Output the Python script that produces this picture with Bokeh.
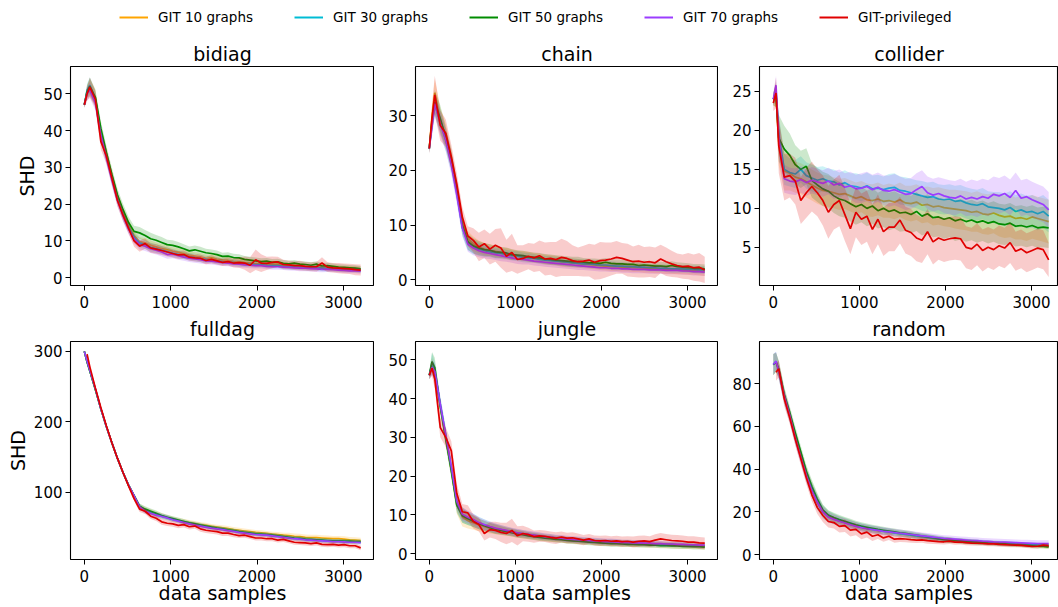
import numpy as np
from bokeh.plotting import figure
from bokeh.models import ColumnDataSource, Range1d, FixedTicker, Legend, LegendItem
from bokeh.layouts import column, row
from bokeh.embed import file_html
from bokeh.resources import INLINE

FONT = "DejaVu Sans"

# ---------------- data ----------------
X = [0, 32, 64, 128, 192, 256, 320, 384, 448, 512, 576, 640,
     704, 768, 832, 896, 960, 1024, 1088, 1152, 1216, 1280,
     1344, 1408, 1472, 1536, 1600, 1664, 1728, 1792, 1856, 1920,
     1984, 2048, 2112, 2176, 2240, 2304, 2368, 2432, 2496, 2560,
     2624, 2688, 2752, 2816, 2880, 2944, 3008, 3072, 3136, 3200]

SERIES = ["GIT 10 graphs", "GIT 30 graphs", "GIT 50 graphs", "GIT 70 graphs", "GIT-privileged"]
COLORS = ["#FFA500", "#00BCD4", "#008C00", "#9B3DFF", "#E00000"]
PANELS = ["bidiag", "chain", "collider", "fulldag", "jungle", "random"]
X_TICKS = [0, 1000, 2000, 3000]

# ---- bidiag ----
bidiag_g10 = [47.0, 50.5, 51.5, 48.8, 39.5, 33.5, 27.5, 22.0, 17.8, 14.3, 11.5, 9.8,
              9.5, 8.8, 8.4, 7.9, 7.6, 7.2, 6.9, 6.5, 6.1, 5.9,
              5.7, 5.3, 5.4, 5.0, 4.8, 4.7, 4.4, 4.3, 4.1, 4.0,
              3.8, 3.9, 3.7, 3.6, 3.7, 3.4, 3.3, 3.3, 3.1, 3.0,
              2.9, 3.0, 2.8, 2.7, 2.6, 2.5, 2.4, 2.4, 2.3, 2.2]
bidiag_g30 = [47.0, 51.0, 52.3, 48.5, 39.0, 33.0, 27.0, 21.5, 17.2, 13.8, 11.0, 9.5,
              9.0, 8.3, 7.9, 7.5, 7.1, 6.7, 6.4, 6.0, 5.7, 5.5,
              5.2, 5.0, 4.9, 4.6, 4.4, 4.3, 4.1, 3.9, 3.8, 3.7,
              3.5, 3.6, 3.4, 3.3, 3.3, 3.1, 3.0, 3.0, 2.9, 2.8,
              2.7, 2.7, 2.6, 2.5, 2.4, 2.3, 2.2, 2.2, 2.1, 2.0]
bidiag_g50 = [47.0, 50.5, 52.0, 49.0, 40.5, 34.0, 28.0, 22.5, 18.5, 15.0, 12.6, 12.2,
              11.5, 10.6, 10.2, 9.6, 9.0, 8.8, 8.4, 7.9, 7.3, 7.6,
              7.2, 6.8, 6.6, 6.3, 5.8, 5.9, 5.5, 5.4, 5.0, 4.8,
              4.6, 4.4, 4.5, 4.2, 4.3, 3.9, 3.8, 4.0, 3.7, 3.6,
              3.4, 3.7, 3.2, 3.3, 3.1, 2.9, 2.8, 2.7, 2.6, 2.4]
bidiag_g70 = [47.0, 50.0, 51.0, 47.5, 38.5, 32.5, 26.5, 21.0, 16.8, 13.2, 10.5, 9.0,
              8.6, 7.9, 7.5, 7.0, 6.3, 6.4, 6.0, 5.6, 5.3, 5.1,
              4.9, 4.6, 4.5, 4.3, 4.1, 4.0, 3.8, 3.7, 3.5, 3.4,
              3.3, 3.3, 3.1, 3.0, 3.0, 2.9, 2.8, 2.7, 2.6, 2.6,
              2.5, 2.4, 2.3, 2.3, 2.2, 2.1, 2.0, 1.9, 1.9, 1.8]
bidiag_priv = [47.0, 50.0, 51.8, 48.5, 37.0, 33.0, 27.0, 21.0, 17.0, 13.5, 10.0, 8.6,
               9.3, 8.1, 7.8, 7.4, 7.0, 6.6, 6.2, 6.3, 5.6, 5.4,
               5.3, 4.7, 5.0, 4.6, 4.2, 4.4, 4.0, 4.1, 4.0, 3.4,
               4.9, 4.0, 3.9, 4.2, 4.3, 3.6, 3.5, 3.3, 3.3, 3.1,
               3.0, 3.0, 4.0, 2.9, 2.7, 2.6, 2.5, 2.4, 2.2, 2.1]
bidiag_g10_sd = [0.8, 1.8, 2.4, 2.2, 2.0, 1.8, 1.7, 1.6, 1.5, 1.5, 1.4, 1.3,
                 1.3, 1.3, 1.2, 1.2, 1.2, 1.1, 1.1, 1.1, 1.1, 1.0,
                 1.0, 1.0, 1.0, 1.0, 1.0, 0.9, 0.9, 0.9, 0.9, 0.9,
                 0.9, 0.9, 0.9, 0.9, 0.8, 0.8, 0.8, 0.8, 0.8, 0.8,
                 0.8, 0.8, 0.8, 0.8, 0.8, 0.8, 0.8, 0.8, 0.8, 0.8]
bidiag_g30_sd = [0.8, 1.8, 2.2, 2.0, 1.9, 1.8, 1.7, 1.6, 1.5, 1.4, 1.3, 1.3,
                 1.2, 1.2, 1.2, 1.1, 1.1, 1.1, 1.0, 1.0, 1.0, 1.0,
                 1.0, 1.0, 0.9, 0.9, 0.9, 0.9, 0.9, 0.9, 0.9, 0.8,
                 0.8, 0.8, 0.8, 0.8, 0.8, 0.8, 0.8, 0.8, 0.8, 0.8,
                 0.8, 0.8, 0.8, 0.8, 0.7, 0.7, 0.7, 0.7, 0.7, 0.7]
bidiag_g50_sd = [0.8, 1.8, 2.4, 2.2, 2.0, 1.9, 1.8, 1.7, 1.6, 1.6, 1.5, 1.6,
                 1.5, 1.6, 1.4, 1.5, 1.3, 1.4, 1.3, 1.2, 1.2, 1.2,
                 1.2, 1.1, 1.1, 1.1, 1.0, 1.0, 1.0, 1.0, 0.9, 0.9,
                 0.9, 0.9, 0.9, 0.9, 0.9, 0.9, 0.8, 0.8, 0.8, 0.8,
                 0.8, 0.8, 0.8, 0.8, 0.8, 0.8, 0.8, 0.8, 0.8, 0.8]
bidiag_g70_sd = [0.8, 1.7, 2.2, 2.0, 1.9, 1.8, 1.7, 1.6, 1.5, 1.4, 1.3, 1.3,
                 1.3, 1.2, 1.2, 1.2, 1.1, 1.1, 1.1, 1.0, 1.0, 1.0,
                 1.0, 0.9, 0.9, 0.9, 0.9, 0.9, 0.9, 0.9, 0.8, 0.8,
                 0.8, 0.8, 0.8, 0.8, 0.8, 0.8, 0.8, 0.8, 0.8, 0.8,
                 0.8, 0.8, 0.8, 0.7, 0.7, 0.7, 0.7, 0.7, 0.7, 0.7]
bidiag_priv_sd = [0.8, 2.0, 2.6, 2.4, 2.2, 2.0, 1.8, 1.7, 1.6, 1.5, 1.6, 1.5,
                  1.4, 1.3, 1.3, 1.2, 1.2, 1.1, 1.1, 1.1, 1.0, 1.0,
                  1.0, 1.0, 1.1, 1.0, 1.0, 1.1, 1.2, 1.4, 1.8, 2.2,
                  2.8, 2.4, 1.8, 1.6, 1.4, 1.3, 1.2, 1.2, 1.3, 1.2,
                  1.2, 1.3, 1.6, 1.3, 1.3, 1.4, 1.4, 1.4, 1.5, 1.5]

# ---- chain ----
chain_g10 = [24.0, 30.0, 34.2, 29.0, 26.5, 22.0, 16.5, 10.5, 7.5, 6.6, 6.0, 5.6,
             5.4, 5.2, 5.0, 4.8, 4.6, 4.4, 4.3, 4.2, 4.0, 3.9,
             3.7, 3.6, 3.5, 3.3, 3.2, 3.1, 3.0, 2.9, 2.8, 2.7,
             2.6, 2.5, 2.4, 2.4, 2.3, 2.3, 2.2, 2.2, 2.1, 2.1,
             2.0, 2.0, 1.9, 1.9, 1.8, 1.8, 1.7, 1.7, 1.6, 1.5]
chain_g30 = [24.0, 28.5, 32.0, 29.0, 25.5, 21.5, 16.0, 9.5, 6.8, 6.0, 5.6, 5.3,
             5.1, 4.9, 4.8, 4.6, 4.4, 4.3, 4.1, 4.0, 3.9, 3.7,
             3.6, 3.5, 3.4, 3.3, 3.2, 3.1, 3.0, 2.9, 2.9, 2.8,
             2.7, 2.7, 2.6, 2.5, 2.5, 2.4, 2.4, 2.3, 2.3, 2.2,
             2.2, 2.1, 2.1, 2.0, 2.0, 2.0, 1.9, 1.9, 1.8, 1.8]
chain_g50 = [24.0, 29.0, 32.5, 29.5, 26.0, 22.0, 16.5, 10.0, 7.0, 6.2, 5.8, 5.5,
             5.4, 5.1, 5.0, 4.9, 4.6, 4.5, 4.4, 4.2, 4.1, 4.0,
             3.8, 3.7, 3.6, 3.5, 3.4, 3.3, 3.3, 3.2, 3.1, 3.1,
             3.0, 3.2, 3.0, 2.9, 2.9, 2.8, 2.8, 2.6, 2.7, 2.6,
             2.5, 2.5, 2.4, 2.6, 2.4, 2.3, 2.2, 2.1, 2.1, 2.0]
chain_g70 = [24.0, 28.0, 32.2, 28.5, 25.5, 21.0, 15.5, 9.5, 6.5, 5.8, 5.3, 5.0,
             4.8, 4.6, 4.4, 4.2, 4.0, 3.8, 3.7, 3.6, 3.4, 3.3,
             3.2, 3.1, 3.0, 2.9, 2.8, 2.7, 2.6, 2.5, 2.4, 2.3,
             2.2, 2.2, 2.1, 2.1, 2.0, 2.0, 1.9, 1.9, 1.9, 1.8,
             1.8, 1.8, 1.7, 1.7, 1.7, 1.6, 1.6, 1.5, 1.5, 1.4]
chain_priv = [24.0, 29.5, 33.8, 28.2, 26.8, 22.5, 17.5, 11.5, 8.0, 7.2, 6.0, 6.6,
              5.6, 6.3, 5.8, 4.3, 5.0, 3.7, 3.9, 4.3, 4.0, 4.4,
              3.8, 3.9, 3.7, 4.1, 3.9, 3.5, 3.3, 3.4, 3.6, 3.2,
              3.5, 3.6, 3.8, 4.1, 3.9, 3.6, 3.3, 3.4, 3.2, 3.3,
              3.1, 3.8, 3.3, 2.9, 2.6, 2.4, 2.5, 2.2, 2.3, 1.8]
chain_g10_sd = [0.8, 2.0, 2.5, 2.5, 2.0, 1.8, 1.6, 1.5, 1.4, 1.3, 1.2, 1.1,
                1.1, 1.0, 1.0, 1.0, 1.0, 0.9, 0.9, 0.9, 0.9, 0.9,
                0.9, 0.9, 0.9, 0.9, 0.9, 0.8, 0.8, 0.8, 0.8, 0.8,
                0.8, 0.8, 0.8, 0.8, 0.8, 0.8, 0.8, 0.8, 0.8, 0.8,
                0.8, 0.8, 0.8, 0.8, 0.8, 0.8, 0.8, 0.8, 0.8, 0.8]
chain_g30_sd = [0.8, 1.8, 2.2, 2.2, 2.0, 1.8, 1.6, 1.5, 1.4, 1.3, 1.2, 1.1,
                1.0, 1.0, 1.0, 0.9, 0.9, 0.9, 0.9, 0.9, 0.8, 0.8,
                0.8, 0.8, 0.8, 0.8, 0.8, 0.8, 0.8, 0.8, 0.8, 0.8,
                0.8, 0.8, 0.8, 0.8, 0.7, 0.7, 0.7, 0.7, 0.7, 0.7,
                0.7, 0.7, 0.7, 0.7, 0.7, 0.7, 0.7, 0.7, 0.7, 0.7]
chain_g50_sd = [0.8, 1.8, 2.2, 2.4, 2.0, 1.8, 1.7, 1.6, 1.5, 1.4, 1.3, 1.2,
                1.1, 1.1, 1.0, 1.0, 1.0, 0.9, 0.9, 0.9, 0.9, 0.9,
                0.9, 0.9, 0.9, 0.9, 0.9, 0.9, 0.9, 0.8, 0.8, 0.8,
                0.8, 0.8, 0.8, 0.8, 0.8, 0.8, 0.8, 0.8, 0.8, 0.8,
                0.8, 0.8, 0.8, 0.8, 0.8, 0.8, 0.8, 0.8, 0.8, 0.8]
chain_g70_sd = [0.8, 1.8, 2.2, 2.2, 2.0, 1.8, 1.6, 1.5, 1.4, 1.3, 1.2, 1.1,
                1.0, 1.0, 1.0, 0.9, 0.9, 0.9, 0.9, 0.8, 0.8, 0.8,
                0.8, 0.8, 0.8, 0.8, 0.8, 0.8, 0.8, 0.7, 0.7, 0.7,
                0.7, 0.7, 0.7, 0.7, 0.7, 0.7, 0.7, 0.7, 0.7, 0.7,
                0.7, 0.7, 0.7, 0.7, 0.7, 0.7, 0.7, 0.7, 0.7, 0.7]
chain_priv_sd = [1.0, 2.5, 3.5, 2.8, 2.5, 2.2, 2.0, 1.8, 1.8, 2.2, 2.6, 2.6,
                 2.8, 3.0, 3.6, 3.0, 3.4, 2.6, 2.4, 2.4, 2.6, 2.8,
                 3.0, 3.0, 3.2, 3.4, 3.2, 2.8, 2.6, 2.8, 3.0, 3.2,
                 3.4, 3.2, 3.0, 3.0, 2.8, 3.0, 2.8, 3.0, 2.8, 2.8,
                 2.8, 2.6, 2.6, 2.4, 2.2, 2.2, 2.4, 2.4, 2.6, 2.4]

# ---- collider ----
collider_g10 = [24.0, 24.5, 18.5, 14.8, 14.5, 14.0, 13.8, 13.4, 13.0, 12.6, 12.3, 12.2,
                12.0, 11.8, 11.9, 11.6, 11.3, 11.5, 11.1, 11.0, 11.2, 10.9,
                11.0, 10.8, 11.1, 10.7, 10.6, 10.8, 10.4, 10.5, 10.2, 10.3,
                10.1, 10.0, 9.9, 9.8, 9.7, 9.5, 9.6, 9.3, 9.2, 9.4,
                9.1, 8.9, 9.0, 8.7, 8.8, 8.6, 8.9, 8.7, 8.5, 8.3]
collider_g30 = [24.0, 25.0, 19.5, 15.0, 14.6, 14.4, 15.0, 14.2, 13.9, 13.6, 13.8, 13.5,
                13.4, 13.0, 13.3, 12.9, 12.8, 12.6, 12.9, 12.5, 12.6, 12.4,
                12.6, 12.7, 12.3, 12.2, 12.0, 11.8, 11.6, 11.4, 11.5, 11.2,
                11.1, 11.2, 10.9, 11.0, 10.7, 10.5, 10.4, 10.6, 10.2, 10.1,
                10.0, 9.8, 10.1, 9.6, 9.8, 9.5, 9.6, 9.3, 9.6, 9.0]
collider_g50 = [24.0, 24.5, 19.0, 17.6, 16.8, 15.6, 15.0, 15.4, 13.6, 13.0, 12.5, 12.2,
                11.6, 11.2, 11.0, 10.6, 10.2, 10.5, 10.0, 10.3, 9.7, 10.0,
                9.6, 9.8, 9.4, 9.5, 9.2, 9.6, 9.0, 9.3, 8.8, 8.9,
                8.6, 8.8, 8.4, 8.6, 8.3, 8.5, 8.2, 8.4, 8.1, 8.3,
                8.0, 7.9, 8.1, 7.7, 7.8, 7.6, 7.8, 7.5, 7.6, 7.5]
collider_g70 = [24.0, 25.8, 19.0, 13.8, 13.5, 13.4, 13.7, 13.3, 13.6, 13.4, 13.2, 13.5,
                13.0, 13.2, 12.7, 12.9, 12.5, 12.6, 12.8, 12.4, 12.7, 12.3,
                12.2, 12.4, 12.1, 11.8, 11.9, 12.4, 12.8, 12.0, 11.7, 11.9,
                11.6, 11.4, 11.3, 11.6, 11.2, 11.4, 11.2, 11.5, 11.3, 11.8,
                11.6, 11.9, 11.4, 12.3, 11.3, 11.5, 11.1, 10.8, 10.5, 9.8]
collider_priv = [23.5, 24.8, 18.0, 14.0, 14.2, 13.5, 11.0, 12.0, 12.8, 12.0, 11.0, 9.5,
                 10.5, 11.0, 9.2, 7.4, 9.5, 8.6, 9.0, 7.3, 8.6, 7.0,
                 7.6, 7.6, 8.5, 7.2, 6.9, 6.2, 5.9, 7.0, 5.7, 6.2,
                 5.9, 6.1, 6.2, 6.1, 5.0, 4.8, 5.4, 4.6, 5.0, 4.7,
                 5.2, 4.9, 5.6, 4.5, 4.8, 4.3, 4.6, 4.9, 4.7, 3.4]
collider_g10_sd = [0.8, 1.5, 3.0, 2.5, 2.2, 2.0, 2.0, 2.0, 2.0, 2.0, 2.0, 2.0,
                   2.0, 2.0, 2.0, 2.0, 2.0, 2.0, 2.1, 2.1, 2.1, 2.1,
                   2.2, 2.2, 2.2, 2.2, 2.3, 2.3, 2.3, 2.3, 2.4, 2.4,
                   2.4, 2.4, 2.5, 2.5, 2.5, 2.5, 2.6, 2.6, 2.6, 2.6,
                   2.7, 2.7, 2.7, 2.7, 2.8, 2.8, 2.8, 2.8, 2.8, 2.8]
collider_g30_sd = [0.8, 1.2, 2.5, 2.0, 1.8, 1.8, 1.7, 1.7, 1.7, 1.7, 1.6, 1.6,
                   1.6, 1.6, 1.6, 1.6, 1.7, 1.7, 1.7, 1.7, 1.7, 1.7,
                   1.8, 1.8, 1.8, 1.8, 1.8, 1.8, 1.9, 1.9, 1.9, 1.9,
                   1.9, 1.9, 2.0, 2.0, 2.0, 2.0, 2.0, 2.0, 2.0, 2.0,
                   2.1, 2.1, 2.1, 2.1, 2.1, 2.1, 2.1, 2.1, 2.1, 2.1]
collider_g50_sd = [0.8, 1.5, 3.0, 3.0, 2.8, 2.5, 2.4, 2.3, 2.2, 2.2, 2.2, 2.2,
                   2.2, 2.2, 2.2, 2.3, 2.3, 2.3, 2.3, 2.3, 2.3, 2.4,
                   2.4, 2.4, 2.4, 2.4, 2.4, 2.5, 2.5, 2.5, 2.5, 2.5,
                   2.5, 2.5, 2.6, 2.6, 2.6, 2.6, 2.6, 2.6, 2.6, 2.6,
                   2.6, 2.6, 2.6, 2.6, 2.6, 2.6, 2.6, 2.6, 2.6, 2.6]
collider_g70_sd = [0.8, 1.2, 2.5, 1.8, 1.7, 1.7, 1.7, 1.7, 1.7, 1.7, 1.7, 1.7,
                   1.8, 1.8, 1.8, 1.8, 1.8, 1.9, 1.9, 1.9, 1.9, 1.9,
                   2.0, 2.0, 2.0, 2.0, 2.0, 2.1, 2.1, 2.1, 2.1, 2.1,
                   2.2, 2.2, 2.2, 2.2, 2.2, 2.3, 2.3, 2.3, 2.3, 2.3,
                   2.3, 2.3, 2.3, 2.3, 2.3, 2.3, 2.3, 2.3, 2.3, 2.3]
collider_priv_sd = [1.0, 2.0, 3.5, 3.0, 2.8, 3.0, 3.0, 3.2, 3.2, 3.0, 3.2, 3.4,
                    3.2, 3.3, 3.4, 3.3, 3.2, 3.3, 3.3, 3.2, 3.2, 3.1,
                    3.1, 3.1, 3.0, 3.0, 3.0, 3.0, 2.9, 2.9, 2.9, 2.8,
                    2.8, 2.8, 2.8, 2.8, 2.7, 2.7, 2.7, 2.7, 2.6, 2.6,
                    2.6, 2.6, 2.6, 2.5, 2.5, 2.5, 2.5, 2.5, 2.5, 2.2]

# ---- fulldag ----
fulldag_g10 = [300, 285, 272, 246, 218, 193, 170, 148, 128, 110, 95, 80,
               75, 72, 69, 66, 64, 62, 60, 58.5, 57, 55.5,
               54, 53, 51.5, 50.5, 49.5, 48.5, 47, 46, 45, 44,
               43, 42.5, 41.5, 40.5, 40, 39, 38.5, 37.5, 37, 36,
               35.5, 35.5, 35, 34.5, 34, 34, 33.5, 32.5, 32, 31.5]
fulldag_g30 = [300, 285, 272, 246, 218, 193, 170, 148, 128, 110, 95, 80,
               74, 71, 68, 66, 64, 61.5, 59.5, 57.5, 55.5, 54,
               52.5, 51, 49.5, 48.5, 47.5, 46, 45, 43.5, 42.5, 41.5,
               40.5, 40, 39.5, 38.5, 37.5, 36.5, 35.5, 34.5, 34, 33,
               32.5, 32, 31.5, 31, 30.5, 30.5, 30, 29.5, 29.5, 29]
fulldag_g50 = [300, 285, 272, 246, 218, 193, 170, 148, 128, 110, 95, 80,
               76, 73, 70, 67, 64.5, 62.5, 60.5, 58.5, 56.5, 55,
               53.5, 52, 50.5, 49, 48, 46.5, 45.5, 44, 43, 42,
               41, 40.5, 40, 39, 38, 37, 36, 35, 34.5, 33.5,
               33, 32.5, 32, 31.5, 31, 31, 30.5, 30.5, 30, 30]
fulldag_g70 = [300, 286, 273, 247, 218, 193, 170, 148, 128, 110, 95, 79,
               73, 70, 67.5, 65.5, 63.5, 61, 59, 57, 55, 53.5,
               52, 50.5, 49, 48, 47, 45.5, 44.5, 43, 42, 41,
               40, 39.5, 39, 38, 37, 36, 35, 34, 33.5, 32.5,
               32, 31.5, 31, 30.5, 30, 30, 29.5, 29, 29, 28.5]
fulldag_priv = [None, 296, 278, 248, 220, 194, 170, 148, 128, 109, 91, 76,
                73, 66, 63, 58, 56, 55, 53, 54, 51, 52,
                48, 46, 45, 44, 42, 42, 40, 38.5, 39, 37,
                35, 35, 34, 34, 32, 33, 31, 29, 28.5, 28,
                27, 28, 26, 25.5, 26, 25, 25.5, 24, 24, 21]
fulldag_g10_sd = [1.0, 2.0, 3.0, 3.0, 3.0, 3.0, 3.0, 3.0, 3.0, 3.0, 3.0, 3.5,
                  4.0, 4.0, 4.0, 4.0, 4.0, 3.5, 3.5, 3.5, 3.5, 3.5,
                  3.5, 3.5, 3.5, 3.5, 3.5, 3.5, 3.5, 3.5, 3.5, 3.5,
                  3.5, 3.5, 3.5, 3.5, 3.5, 3.5, 4.0, 4.0, 4.0, 4.0,
                  4.0, 4.0, 4.0, 4.0, 4.0, 4.0, 4.0, 4.0, 4.0, 4.0]
fulldag_g30_sd = [1.0, 2.0, 3.0, 3.0, 3.0, 3.0, 3.0, 3.0, 3.0, 3.0, 3.0, 3.5,
                  4.0, 4.0, 3.5, 3.5, 3.5, 3.5, 3.0, 3.0, 3.0, 3.0,
                  3.0, 3.0, 3.0, 3.0, 3.0, 3.0, 3.0, 3.0, 3.0, 3.0,
                  3.0, 3.0, 3.0, 3.0, 3.0, 3.0, 3.0, 3.0, 3.0, 3.0,
                  3.0, 3.0, 3.0, 3.0, 3.0, 3.0, 3.0, 3.0, 3.0, 3.0]
fulldag_g50_sd = [1.0, 2.0, 3.0, 3.0, 3.0, 3.0, 3.0, 3.0, 3.0, 3.0, 3.5, 4.0,
                  4.0, 4.0, 4.0, 3.5, 3.5, 3.5, 3.5, 3.5, 3.0, 3.0,
                  3.0, 3.0, 3.0, 3.0, 3.0, 3.0, 3.0, 3.0, 3.0, 3.0,
                  3.0, 3.0, 3.0, 3.0, 3.0, 3.0, 3.0, 3.0, 3.0, 3.0,
                  3.0, 3.0, 3.0, 3.0, 3.0, 3.0, 3.0, 3.0, 3.0, 3.0]
fulldag_g70_sd = [1.0, 2.0, 3.0, 3.0, 3.0, 3.0, 3.0, 3.0, 3.0, 3.0, 3.0, 3.5,
                  3.5, 3.5, 3.5, 3.5, 3.5, 3.0, 3.0, 3.0, 3.0, 3.0,
                  3.0, 3.0, 3.0, 3.0, 3.0, 3.0, 3.0, 3.0, 3.0, 3.0,
                  3.0, 3.0, 3.0, 3.0, 3.0, 3.0, 3.0, 3.0, 3.0, 3.0,
                  3.0, 3.0, 3.0, 3.0, 3.0, 3.0, 3.0, 3.0, 3.0, 3.0]
fulldag_priv_sd = [None, 2.0, 3.0, 3.0, 3.0, 3.0, 3.0, 3.0, 3.0, 3.0, 3.5, 4.0,
                   4.0, 4.0, 4.0, 4.0, 4.0, 4.0, 4.0, 4.0, 4.0, 4.0,
                   4.0, 4.0, 4.0, 4.0, 4.0, 4.0, 4.0, 3.5, 3.5, 3.5,
                   3.5, 3.5, 3.5, 3.5, 3.5, 3.5, 3.5, 3.5, 3.5, 3.5,
                   3.5, 3.5, 3.5, 3.5, 3.5, 3.5, 3.5, 3.5, 3.5, 3.5]

# ---- jungle ----
jungle_g10 = [46.0, 48.5, 46.5, 38.0, 30.0, 21.5, 12.5, 9.5, 8.5, 8.0, 7.4, 7.0,
              6.6, 6.3, 6.0, 5.7, 5.4, 5.1, 4.9, 4.7, 4.5, 4.3,
              4.1, 4.0, 3.8, 3.7, 3.5, 3.4, 3.3, 3.2, 3.1, 3.0,
              2.9, 2.8, 2.8, 2.7, 2.6, 2.6, 2.5, 2.5, 2.4, 2.4,
              2.3, 2.3, 2.2, 2.2, 2.1, 2.1, 2.0, 2.0, 2.0, 1.9]
jungle_g30 = [46.0, 49.0, 47.0, 38.5, 30.5, 22.0, 13.0, 10.0, 9.2, 8.6, 7.9, 7.4,
              6.9, 6.5, 6.2, 5.9, 5.6, 5.3, 5.1, 4.9, 4.7, 4.5,
              4.3, 4.2, 4.0, 3.9, 3.7, 3.6, 3.5, 3.4, 3.3, 3.2,
              3.1, 3.0, 3.0, 2.9, 2.8, 2.8, 2.7, 2.7, 2.6, 2.6,
              2.5, 2.5, 2.4, 2.4, 2.3, 2.3, 2.2, 2.2, 2.1, 2.1]
jungle_g50 = [46.0, 49.5, 48.0, 38.0, 29.5, 21.5, 12.5, 9.8, 9.0, 8.4, 7.7, 7.2,
              6.7, 6.3, 6.0, 5.7, 5.4, 5.1, 4.9, 4.6, 4.4, 4.2,
              4.0, 3.9, 3.7, 3.6, 3.4, 3.3, 3.2, 3.1, 3.0, 2.9,
              2.8, 2.7, 2.6, 2.6, 2.5, 2.4, 2.4, 2.3, 2.3, 2.2,
              2.2, 2.1, 2.1, 2.0, 2.0, 1.9, 1.9, 1.8, 1.8, 1.7]
jungle_g70 = [46.0, 48.0, 47.0, 38.5, 30.5, 22.5, 13.5, 10.2, 9.4, 8.8, 8.0, 7.5,
              7.0, 6.6, 6.3, 6.0, 5.7, 5.4, 5.2, 5.0, 4.8, 4.6,
              4.4, 4.3, 4.1, 4.0, 3.8, 3.7, 3.6, 3.5, 3.4, 3.3,
              3.2, 3.1, 3.1, 3.0, 2.9, 2.9, 2.8, 2.8, 2.7, 2.7,
              2.6, 2.6, 2.5, 2.5, 2.4, 2.4, 2.3, 2.3, 2.2, 2.2]
jungle_priv = [46.0, 47.8, 45.0, 32.5, 30.0, 26.5, 15.5, 10.8, 10.5, 8.3, 7.5, 5.2,
               6.2, 6.0, 5.5, 5.2, 6.0, 4.6, 5.2, 4.9, 4.4, 4.6,
               4.5, 4.2, 4.0, 4.3, 4.0, 4.1, 3.8, 3.5, 3.8, 3.4,
               3.3, 3.4, 3.2, 3.3, 3.1, 3.2, 3.0, 3.2, 3.3, 3.1,
               3.5, 3.8, 3.6, 3.4, 3.3, 3.2, 3.0, 3.0, 2.8, 2.7]
jungle_g10_sd = [1.0, 2.0, 2.0, 2.0, 2.0, 2.0, 2.2, 2.5, 2.0, 1.8, 1.6, 1.5,
                 1.4, 1.3, 1.2, 1.1, 1.0, 1.0, 1.0, 0.9, 0.9, 0.9,
                 0.9, 0.9, 0.8, 0.8, 0.8, 0.8, 0.8, 0.8, 0.8, 0.8,
                 0.8, 0.8, 0.8, 0.8, 0.8, 0.8, 0.8, 0.8, 0.8, 0.8,
                 0.8, 0.8, 0.8, 0.8, 0.8, 0.8, 0.8, 0.8, 0.8, 0.8]
jungle_g30_sd = [1.0, 2.8, 2.5, 2.0, 2.0, 2.0, 2.0, 2.0, 1.8, 1.7, 1.6, 1.5,
                 1.4, 1.3, 1.2, 1.1, 1.0, 1.0, 1.0, 0.9, 0.9, 0.9,
                 0.9, 0.9, 0.8, 0.8, 0.8, 0.8, 0.8, 0.8, 0.8, 0.8,
                 0.8, 0.8, 0.8, 0.8, 0.8, 0.8, 0.8, 0.8, 0.8, 0.8,
                 0.7, 0.7, 0.7, 0.7, 0.7, 0.7, 0.7, 0.7, 0.7, 0.7]
jungle_g50_sd = [1.0, 2.5, 2.5, 2.0, 2.0, 2.0, 2.0, 1.8, 1.6, 1.5, 1.4, 1.3,
                 1.2, 1.2, 1.1, 1.0, 1.0, 1.0, 0.9, 0.9, 0.9, 0.9,
                 0.8, 0.8, 0.8, 0.8, 0.8, 0.8, 0.8, 0.8, 0.8, 0.8,
                 0.8, 0.8, 0.8, 0.8, 0.7, 0.7, 0.7, 0.7, 0.7, 0.7,
                 0.7, 0.7, 0.7, 0.7, 0.7, 0.7, 0.7, 0.7, 0.7, 0.7]
jungle_g70_sd = [1.0, 2.0, 2.0, 2.0, 2.0, 2.0, 2.0, 1.8, 1.6, 1.5, 1.4, 1.3,
                 1.2, 1.2, 1.1, 1.0, 1.0, 1.0, 0.9, 0.9, 0.9, 0.9,
                 0.8, 0.8, 0.8, 0.8, 0.8, 0.8, 0.8, 0.8, 0.8, 0.8,
                 0.8, 0.8, 0.8, 0.8, 0.7, 0.7, 0.7, 0.7, 0.7, 0.7,
                 0.7, 0.7, 0.7, 0.7, 0.7, 0.7, 0.7, 0.7, 0.7, 0.7]
jungle_priv_sd = [1.0, 2.0, 2.5, 2.5, 2.5, 2.5, 2.5, 2.0, 2.0, 1.8, 1.8, 1.8,
                  2.0, 2.2, 2.5, 2.8, 3.0, 2.5, 2.0, 1.8, 1.6, 1.5,
                  1.5, 1.5, 1.5, 1.4, 1.4, 1.4, 1.4, 1.3, 1.3, 1.3,
                  1.3, 1.3, 1.3, 1.3, 1.3, 1.3, 1.4, 1.4, 1.4, 1.4,
                  1.5, 1.5, 1.5, 1.5, 1.5, 1.5, 1.5, 1.5, 1.5, 1.5]

# ---- random ----
random_g10 = [89.0, 90.0, 86.5, 74.5, 65.5, 55.5, 46.5, 38.0, 31.0, 25.0, 20.5, 18.0,
              16.8, 15.8, 15.0, 14.2, 13.4, 12.7, 12.2, 11.7, 11.3, 10.9,
              10.5, 10.1, 9.7, 9.4, 9.0, 8.6, 8.3, 7.9, 7.6, 7.2,
              6.9, 6.7, 6.5, 6.3, 6.1, 6.0, 5.8, 5.7, 5.5, 5.4,
              5.3, 5.1, 5.0, 4.8, 4.7, 4.5, 4.4, 4.2, 4.0, 3.8]
random_g30 = [89.0, 90.5, 86.0, 74.0, 65.0, 55.0, 46.0, 37.5, 30.5, 24.5, 20.0, 17.8,
              16.7, 15.8, 15.0, 14.2, 13.4, 12.8, 12.3, 11.8, 11.4, 11.0,
              10.6, 10.2, 9.8, 9.5, 9.1, 8.7, 8.4, 8.0, 7.7, 7.3,
              7.0, 6.8, 6.6, 6.4, 6.2, 6.1, 5.9, 5.8, 5.6, 5.5,
              5.4, 5.3, 5.2, 5.0, 4.9, 4.8, 4.7, 4.6, 4.5, 4.5]
random_g50 = [89.0, 90.0, 87.0, 75.0, 66.5, 57.0, 48.0, 39.0, 32.0, 26.0, 21.0, 18.5,
              17.4, 16.4, 15.6, 14.8, 14.0, 13.3, 12.8, 12.3, 11.8, 11.4,
              11.0, 10.6, 10.2, 9.9, 9.5, 9.1, 8.7, 8.3, 7.9, 7.5,
              7.1, 6.9, 6.6, 6.4, 6.2, 6.0, 5.8, 5.6, 5.4, 5.3,
              5.1, 5.0, 4.8, 4.6, 4.5, 4.3, 4.1, 3.9, 3.8, 3.6]
random_g70 = [89.0, 90.5, 86.0, 74.0, 65.0, 54.5, 45.5, 37.0, 30.0, 24.5, 20.0, 17.5,
              16.5, 15.6, 14.8, 14.0, 13.2, 12.6, 12.1, 11.7, 11.3, 10.9,
              10.6, 10.3, 10.0, 9.7, 9.4, 9.1, 8.8, 8.5, 8.2, 7.9,
              7.6, 7.4, 7.2, 7.0, 6.8, 6.6, 6.5, 6.3, 6.2, 6.0,
              5.9, 5.8, 5.7, 5.6, 5.5, 5.4, 5.3, 5.2, 5.2, 5.2]
random_priv = [None, 85.4, 87.0, 73.0, 64.0, 54.0, 45.0, 36.0, 28.0, 22.0, 18.3, 15.5,
               15.0, 13.2, 13.6, 11.5, 11.8, 9.7, 10.5, 8.6, 9.3, 7.8,
               8.6, 7.2, 7.5, 7.3, 7.0, 6.8, 6.9, 6.5, 6.3, 6.1,
               6.0, 6.3, 5.8, 5.9, 5.6, 5.4, 5.3, 5.2, 5.0, 5.0,
               4.8, 4.7, 4.5, 4.4, 4.3, 4.1, 3.8, 3.9, 4.4, 4.2]
random_g10_sd = [5.0, 4.5, 4.0, 3.5, 3.0, 3.0, 3.0, 3.0, 3.0, 2.8, 2.5, 2.3,
                 2.2, 2.1, 2.0, 2.0, 1.9, 1.8, 1.8, 1.7, 1.7, 1.6,
                 1.6, 1.6, 1.5, 1.5, 1.5, 1.4, 1.4, 1.4, 1.3, 1.3,
                 1.3, 1.3, 1.2, 1.2, 1.2, 1.2, 1.2, 1.1, 1.1, 1.1,
                 1.1, 1.1, 1.1, 1.0, 1.0, 1.0, 1.0, 1.0, 1.0, 1.0]
random_g30_sd = [5.0, 4.5, 4.0, 3.5, 3.2, 3.2, 3.2, 3.4, 3.5, 3.5, 3.2, 2.8,
                 2.5, 2.3, 2.2, 2.1, 2.0, 1.9, 1.8, 1.8, 1.7, 1.7,
                 1.6, 1.6, 1.5, 1.5, 1.5, 1.4, 1.4, 1.4, 1.3, 1.3,
                 1.3, 1.3, 1.2, 1.2, 1.2, 1.2, 1.2, 1.1, 1.1, 1.1,
                 1.1, 1.1, 1.1, 1.0, 1.0, 1.0, 1.0, 1.0, 1.0, 1.0]
random_g50_sd = [5.0, 4.5, 4.0, 3.5, 3.0, 3.0, 3.0, 3.0, 3.0, 2.8, 2.5, 2.3,
                 2.2, 2.1, 2.0, 2.0, 1.9, 1.8, 1.8, 1.7, 1.7, 1.6,
                 1.6, 1.6, 1.5, 1.5, 1.5, 1.4, 1.4, 1.4, 1.3, 1.3,
                 1.3, 1.3, 1.2, 1.2, 1.2, 1.2, 1.2, 1.1, 1.1, 1.1,
                 1.1, 1.1, 1.1, 1.0, 1.0, 1.0, 1.0, 1.0, 1.0, 1.0]
random_g70_sd = [5.0, 4.5, 4.0, 3.5, 3.0, 3.0, 3.0, 3.0, 3.0, 2.8, 2.5, 2.3,
                 2.2, 2.1, 2.0, 2.0, 1.9, 1.9, 1.9, 1.8, 1.8, 1.8,
                 1.8, 1.7, 1.7, 1.7, 1.7, 1.6, 1.6, 1.6, 1.6, 1.5,
                 1.5, 1.5, 1.5, 1.5, 1.5, 1.5, 1.5, 1.5, 1.5, 1.5,
                 1.5, 1.5, 1.5, 1.5, 1.5, 1.5, 1.5, 1.5, 1.5, 1.5]
random_priv_sd = [None, 4.0, 4.0, 3.5, 3.0, 3.0, 3.0, 3.0, 3.0, 3.0, 3.0, 2.8,
                  2.8, 2.8, 3.0, 3.0, 2.8, 2.5, 2.5, 2.2, 2.0, 1.8,
                  1.8, 1.6, 1.6, 1.5, 1.5, 1.4, 1.4, 1.4, 1.3, 1.3,
                  1.3, 1.3, 1.2, 1.2, 1.2, 1.2, 1.2, 1.1, 1.1, 1.1,
                  1.1, 1.1, 1.1, 1.0, 1.0, 1.0, 1.0, 1.0, 1.0, 1.0]

MEANS = {
    "bidiag": [bidiag_g10, bidiag_g30, bidiag_g50, bidiag_g70, bidiag_priv],
    "chain": [chain_g10, chain_g30, chain_g50, chain_g70, chain_priv],
    "collider": [collider_g10, collider_g30, collider_g50, collider_g70, collider_priv],
    "fulldag": [fulldag_g10, fulldag_g30, fulldag_g50, fulldag_g70, fulldag_priv],
    "jungle": [jungle_g10, jungle_g30, jungle_g50, jungle_g70, jungle_priv],
    "random": [random_g10, random_g30, random_g50, random_g70, random_priv],
}
SDS = {
    "bidiag": [bidiag_g10_sd, bidiag_g30_sd, bidiag_g50_sd, bidiag_g70_sd, bidiag_priv_sd],
    "chain": [chain_g10_sd, chain_g30_sd, chain_g50_sd, chain_g70_sd, chain_priv_sd],
    "collider": [collider_g10_sd, collider_g30_sd, collider_g50_sd, collider_g70_sd, collider_priv_sd],
    "fulldag": [fulldag_g10_sd, fulldag_g30_sd, fulldag_g50_sd, fulldag_g70_sd, fulldag_priv_sd],
    "jungle": [jungle_g10_sd, jungle_g30_sd, jungle_g50_sd, jungle_g70_sd, jungle_priv_sd],
    "random": [random_g10_sd, random_g30_sd, random_g50_sd, random_g70_sd, random_priv_sd],
}
Y_RANGES = {"bidiag": (-2.1, 57.4), "chain": (-1.05, 39.0), "collider": (0.1, 28.2),
            "fulldag": (4.5, 314.0), "jungle": (-1.5, 54.7), "random": (-2.3, 99.8)}
Y_TICKS = {"bidiag": [0, 10, 20, 30, 40, 50], "chain": [0, 10, 20, 30],
           "collider": [5, 10, 15, 20, 25], "fulldag": [100, 200, 300],
           "jungle": [0, 10, 20, 30, 40, 50], "random": [0, 20, 40, 60, 80]}

for k in PANELS:
    for arr in MEANS[k] + SDS[k]:
        assert len(arr) == len(X), (k, len(arr))

# ---------------- layout ----------------
COL_FRAME_W = [304, 303, 299]
COL_LEFT = [70, 41, 41]
COL_XEND = [3360, 3360, 3314]
ROW_FRAME_H = [219, 218]
ROW_TOP = [31, 30]
ROW_BOTTOM = [26, 46]
LEGEND_H = 35


def make_panel(idx):
    name = PANELS[idx]
    r, c = divmod(idx, 3)
    p = figure(frame_width=COL_FRAME_W[c], frame_height=ROW_FRAME_H[r],
               min_border_left=COL_LEFT[c], min_border_right=0,
               min_border_top=ROW_TOP[r], min_border_bottom=ROW_BOTTOM[r],
               x_range=Range1d(-160, COL_XEND[c]),
               y_range=Range1d(*Y_RANGES[name]),
               toolbar_location=None, output_backend="svg",
               background_fill_color="white", border_fill_color="white")
    p.title.text = name
    p.title.align = "center"
    p.title.text_font = FONT
    p.title.text_font_size = "19px"
    p.title.text_font_style = "normal"
    p.title.text_color = "black"
    p.title.standoff = 3
    p.grid.visible = False
    p.outline_line_color = "black"
    p.outline_line_width = 1.1
    p.outline_line_alpha = 1.0

    p.xaxis.ticker = FixedTicker(ticks=X_TICKS)
    p.yaxis.ticker = FixedTicker(ticks=Y_TICKS[name])
    for ax in (p.xaxis[0], p.yaxis[0]):
        ax.axis_line_color = None
        ax.major_tick_out = 5
        ax.major_tick_in = 0
        ax.minor_tick_out = 0
        ax.minor_tick_in = 0
        ax.major_tick_line_color = "black"
        ax.major_label_text_font = FONT
        ax.major_label_text_font_size = "15px"
        ax.major_label_text_color = "black"
        ax.major_label_standoff = 3
        ax.axis_label_text_font = FONT
        ax.axis_label_text_font_size = "19px"
        ax.axis_label_text_font_style = "normal"
        ax.axis_label_text_color = "black"
    p.xaxis.major_label_standoff = 5
    if c == 0:
        p.yaxis.axis_label = "SHD"
        p.yaxis.axis_label_standoff = 2
    if r == 1:
        p.xaxis.axis_label = "data samples"
        p.xaxis.axis_label_standoff = -3

    xs = np.array(X, dtype=float)
    for mean, sd, color in zip(MEANS[name], SDS[name], COLORS):
        m = np.array([np.nan if v is None else v for v in mean], dtype=float)
        s = np.array([np.nan if v is None else v for v in sd], dtype=float)
        ok = ~np.isnan(m)
        src = ColumnDataSource(dict(x=xs[ok], lo=(m - s)[ok], hi=(m + s)[ok], y=m[ok]))
        p.varea(x="x", y1="lo", y2="hi", source=src, fill_color=color, fill_alpha=0.2)
        p.line(x="x", y="y", source=src, line_color=color, line_width=1.7)
    return p


panels = [make_panel(i) for i in range(6)]

# ---------------- legend strip ----------------
leg = figure(width=1058, height=LEGEND_H, x_range=Range1d(0, 1), y_range=Range1d(0, 1),
             toolbar_location=None, output_backend="svg", min_border=0,
             x_axis_location=None, y_axis_location=None, outline_line_color=None,
             background_fill_color="white", border_fill_color="white")
leg.grid.visible = False
items = []
for lab, color in zip(SERIES, COLORS):
    # proxy renderer placed outside the visible range; only its legend swatch shows
    rr = leg.line(x=[-5, -4], y=[-5, -5], line_color=color, line_width=2)
    items.append(LegendItem(label=lab, renderers=[rr]))
legend = Legend(items=items, orientation="horizontal", location=(119, 10),
                glyph_width=29, glyph_height=16, label_height=16, label_standoff=10,
                spacing=41, padding=0, margin=0, border_line_color=None,
                background_fill_alpha=0, label_text_font=FONT,
                label_text_font_size="13.5px", label_text_color="black")
leg.add_layout(legend, "center")

layout = column(leg, row(*panels[:3]), row(*panels[3:]))

open("out.html", "w").write(file_html(layout, INLINE))
